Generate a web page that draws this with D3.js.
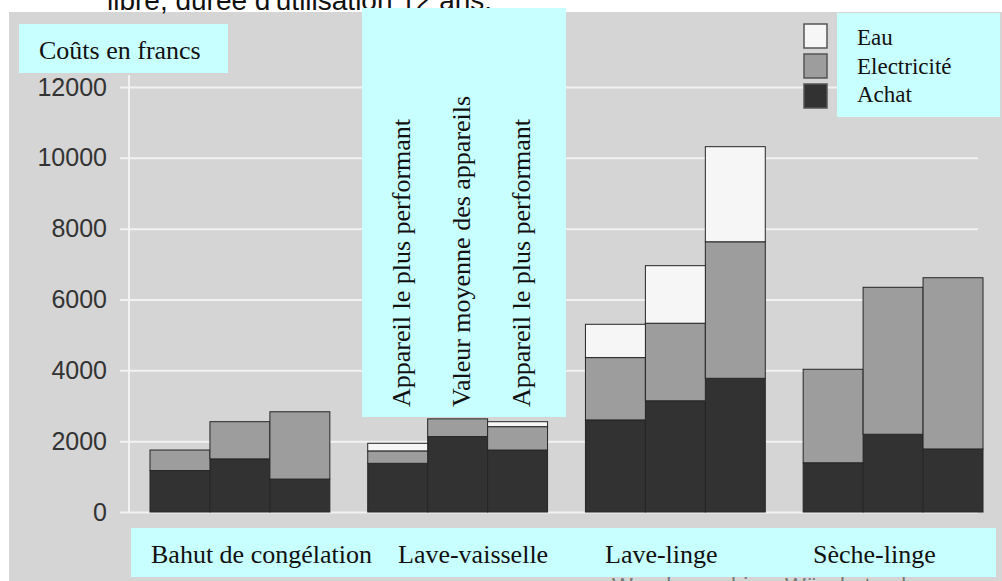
<!DOCTYPE html>
<html>
<head>
<meta charset="utf-8">
<script src="https://cdn.jsdelivr.net/npm/d3@7"></script>
<style>
  body { margin: 0; background: #fff; }
  svg { display: block; }
  .serif { font-family: "Liberation Serif", "Times New Roman", serif; fill: #111; }
  .sans { font-family: "Liberation Sans", Arial, sans-serif; }
</style>
</head>
<body>
<div class="chart"></div>
<script>
// Chart data
const categories = ["Bahut de congélation", "Lave-vaisselle", "Lave-linge", "Sèche-linge"];
const deviceLabels = ["Appareil le plus performant", "Valeur moyenne des appareils", "Appareil le plus performant"];
const seriesNames = ["Achat", "Electricité", "Eau"];
const achat = [[1170, 1500, 930], [1375, 2130, 1750], [2600, 3140, 3775], [1390, 2195, 1780]];
const electricite = [[580, 1050, 1900], [350, 500, 660], [1760, 2190, 3855], [2640, 4150, 4835]];
const eau = [[0, 0, 0], [215, 0, 140], [940, 1625, 2685], [0, 0, 0]];
const yTicks = [0, 2000, 4000, 6000, 8000, 10000, 12000];

const svgWidth = 1002;
const svgHeight = 581;

const colors = { "Achat": "#323232", "Electricité": "#9d9d9d", "Eau": "#f6f6f6" };

const svg = d3.select(".chart")
  .append("svg")
  .attr("width", svgWidth)
  .attr("height", svgHeight);

// Gray plot background
svg.append("rect")
  .attr("x", 9).attr("y", 12)
  .attr("width", svgWidth - 9).attr("height", svgHeight - 12)
  .attr("fill", "#d5d5d5");

// Title fragment cut at the top
svg.append("text")
  .attr("class", "sans")
  .attr("x", 107).attr("y", 10)
  .attr("font-size", 28)
  .attr("fill", "#111")
  .text("libre, durée d'utilisation 12 ans.");

// Scales
const x0 = d3.scaleBand()
  .domain(categories)
  .range([150, 983])
  .paddingInner(0.174)
  .paddingOuter(0);

const x1 = d3.scaleBand()
  .domain(d3.range(3))
  .range([0, x0.bandwidth()]);

const y = d3.scaleLinear()
  .domain([0, 12000])
  .range([512, 87]);

// Grid lines and y axis
const leftAxis = d3.axisLeft(y)
  .tickValues(yTicks)
  .tickSize(-(978 - 129))
  .tickPadding(22)
  .tickFormat(d3.format("d"));

const yAxis = svg.append("g")
  .attr("transform", "translate(129,0)")
  .call(leftAxis);

yAxis.select(".domain").remove();
yAxis.selectAll(".tick line")
  .attr("x1", -9)
  .attr("stroke", "#f2f2f2")
  .attr("stroke-width", 2);
yAxis.selectAll(".tick text")
  .attr("class", "sans")
  .attr("font-size", 25)
  .attr("fill", "#333");

svg.append("line")
  .attr("x1", 129).attr("x2", 129)
  .attr("y1", 75).attr("y2", y(0) + 1)
  .attr("stroke", "#f2f2f2")
  .attr("stroke-width", 2);

// German labels peeking below the category box
svg.append("g")
  .attr("class", "sans")
  .attr("font-size", 22)
  .attr("fill", "#777")
  .selectAll("text")
  .data(["Waschmaschine", "Wäschetrockner"])
  .enter()
  .append("text")
  .attr("x", (d, i) => i === 0 ? 612 : 785)
  .attr("y", 593)
  .text(d => d);

// Build rows and stack
const rows = [];
categories.forEach((cat, ci) => {
  d3.range(3).forEach(di => {
    rows.push({
      cat: cat,
      dev: di,
      "Achat": achat[ci][di],
      "Electricité": electricite[ci][di],
      "Eau": eau[ci][di]
    });
  });
});

const stacked = d3.stack().keys(seriesNames)(rows);

const barsGroup = svg.append("g");
stacked.forEach(layer => {
  barsGroup.selectAll(null)
    .data(layer.filter(d => d[1] > d[0]))
    .enter()
    .append("rect")
    .attr("x", d => x0(d.data.cat) + x1(d.data.dev))
    .attr("width", x1.bandwidth())
    .attr("y", d => y(d[1]))
    .attr("height", d => y(d[0]) - y(d[1]))
    .attr("fill", colors[layer.key])
    .attr("stroke", "#262626")
    .attr("stroke-width", 1);
});

// Cyan label boxes
const cyan = "#c8ffff";

svg.append("rect")
  .attr("x", 19).attr("y", 24)
  .attr("width", 209).attr("height", 49)
  .attr("fill", cyan);
svg.append("text")
  .attr("class", "serif")
  .attr("x", 39).attr("y", 59)
  .attr("font-size", 26)
  .text("Coûts en francs");

// Rotated device labels box
svg.append("rect")
  .attr("x", 362).attr("y", 8)
  .attr("width", 204).attr("height", 409)
  .attr("fill", cyan);

const lv = "Lave-vaisselle";
svg.append("g")
  .selectAll("text")
  .data(deviceLabels)
  .enter()
  .append("text")
  .attr("class", "serif")
  .attr("font-size", 26)
  .attr("transform", (d, i) => `translate(${x0(lv) + x1(i) + x1.bandwidth() / 2 + 12}, 407) rotate(-90)`)
  .text(d => d);

// Category labels box
svg.append("rect")
  .attr("x", 131).attr("y", 528)
  .attr("width", 865).attr("height", 49)
  .attr("fill", cyan);

const catLabelX = [151, 398, 605, 813];
svg.append("g")
  .selectAll("text")
  .data(categories)
  .enter()
  .append("text")
  .attr("class", "serif")
  .attr("font-size", 26)
  .attr("x", (d, i) => catLabelX[i])
  .attr("y", 563)
  .text(d => d);

// Legend
const legendOrder = ["Eau", "Electricité", "Achat"];
svg.append("rect")
  .attr("x", 837).attr("y", 13)
  .attr("width", 163).attr("height", 104)
  .attr("fill", cyan);

const legend = svg.append("g");
legend.selectAll("rect")
  .data(legendOrder)
  .enter()
  .append("rect")
  .attr("x", 804)
  .attr("y", (d, i) => 24 + i * 30)
  .attr("width", 23)
  .attr("height", 24)
  .attr("fill", d => colors[d])
  .attr("stroke", "#555")
  .attr("stroke-width", 1.5);

legend.selectAll("text")
  .data(legendOrder)
  .enter()
  .append("text")
  .attr("class", "serif")
  .attr("font-size", 23)
  .attr("x", 857)
  .attr("y", (d, i) => 45 + i * 28.5)
  .text(d => d);
</script>
</body>
</html>
